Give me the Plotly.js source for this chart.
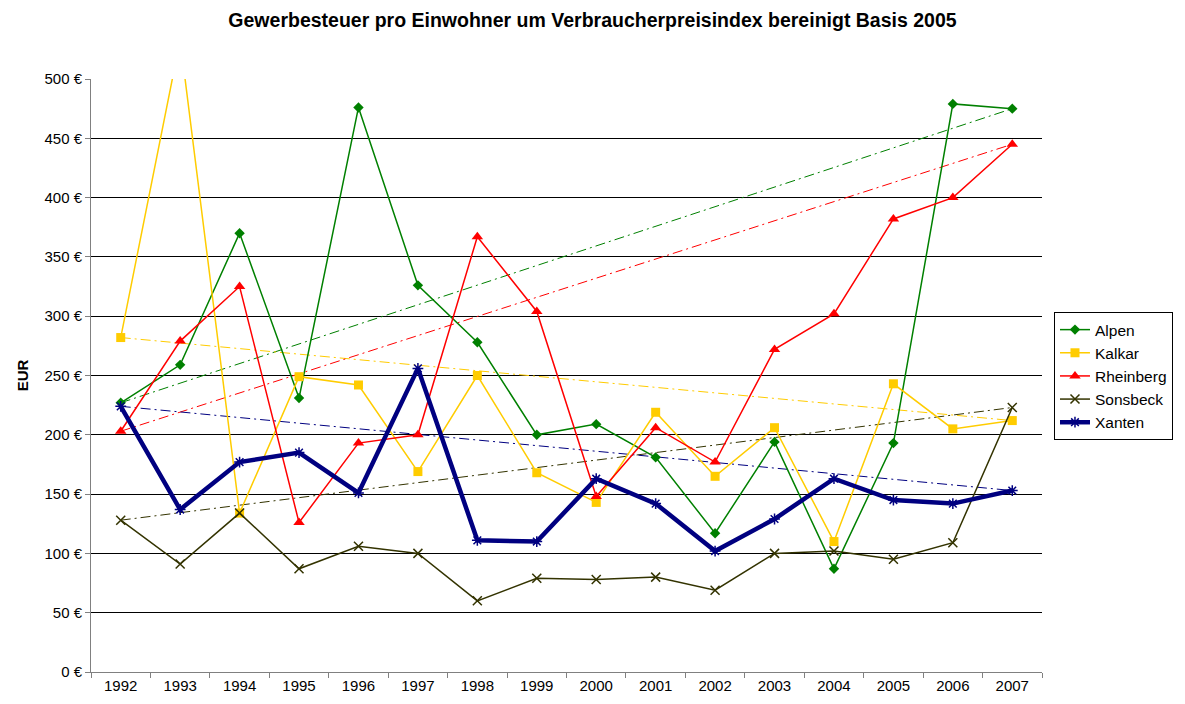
<!DOCTYPE html>
<html>
<head>
<meta charset="utf-8">
<script src="https://cdn.plot.ly/plotly-3.0.1.min.js"></script>
<style>
  html, body { margin: 0; padding: 0; background: #fff; }
  #chart { width: 1185px; height: 704px; }
</style>
</head>
<body>
<div id="chart"></div>
<script>
const jahre = ['1992', '1993', '1994', '1995', '1996', '1997', '1998', '1999',
               '2000', '2001', '2002', '2003', '2004', '2005', '2006', '2007'];

const alpen     = [227, 259, 370, 231, 476, 326, 278, 200, 209, 181, 117, 194, 87, 193, 479, 475];
const kalkar    = [282, 533, 134, 249, 242, 169, 250, 168, 143, 219, 165, 206, 110, 243, 205, 212];
const rheinberg = [203, 279, 325, 126, 193, 200, 367, 304, 148, 206, 177, 272, 302, 382, 400, 445];
const sonsbeck  = [128, 91, 134, 87, 106, 100, 60, 79, 78, 80, 69, 100, 102, 95, 109, 223];
const xanten    = [224, 137, 177, 185, 151, 256, 111, 110, 163, 142, 102, 129, 163, 145, 142, 153];

const yTicks = [0, 50, 100, 150, 200, 250, 300, 350, 400, 450, 500];

// Trendlinie: vom ersten zum letzten Jahr
function trend(werte) {
    return [werte[0], werte[werte.length - 1]];
}

const reihen = [
    { name: 'Alpen',     y: alpen,     color: '#008000', symbol: 'diamond',        size: 8,  width: 1.5 },
    { name: 'Kalkar',    y: kalkar,    color: '#FFCC00', symbol: 'square',         size: 9,  width: 1.5 },
    { name: 'Rheinberg', y: rheinberg, color: '#FF0000', symbol: 'triangle-up',    size: 10, width: 1.5 },
    { name: 'Sonsbeck',  y: sonsbeck,  color: '#333300', symbol: 'x-thin-open',    size: 9,  width: 1.5 },
    { name: 'Xanten',    y: xanten,    color: '#000080', symbol: 'asterisk-open',  size: 9,  width: 4.5 }
];

const data = [];

reihen.forEach(r => {
    data.push({
        x: [jahre[0], jahre[jahre.length - 1]],
        y: trend(r.y),
        type: 'scatter',
        mode: 'lines',
        showlegend: false,
        hoverinfo: 'skip',
        line: { color: r.color, width: 1, dash: '10px,4px,2px,4px' }
    });
});

reihen.forEach(r => {
    data.push({
        x: jahre,
        y: r.y,
        name: r.name,
        type: 'scatter',
        mode: 'lines+markers',
        line: { color: r.color, width: r.width },
        marker: {
            symbol: r.symbol,
            size: r.size,
            color: r.color,
            line: { color: r.color, width: r.symbol.indexOf('open') >= 0 ? 1.5 : 0 }
        }
    });
});

const layout = {
    width: 1185,
    height: 704,
    margin: { l: 91, r: 139, t: 79, b: 32 },
    paper_bgcolor: '#fff',
    plot_bgcolor: '#fff',
    font: { family: 'Liberation Sans, Arial, sans-serif', size: 15, color: '#000' },
    title: {
        text: '<b>Gewerbesteuer pro Einwohner um Verbraucherpreisindex bereinigt Basis 2005</b>',
        font: { size: 19.5, color: '#000' },
        x: 0.5, xanchor: 'center',
        y: 0.971, yanchor: 'middle'
    },
    xaxis: {
        type: 'category',
        categoryorder: 'array',
        categoryarray: jahre,
        range: [-0.5, 15.5],
        tickson: 'boundaries',
        ticks: 'outside',
        ticklen: 5,
        tickcolor: '#808080',
        showline: true,
        linecolor: '#808080',
        linewidth: 1,
        showgrid: false,
        zeroline: false,
        tickfont: { size: 15 }
    },
    yaxis: {
        range: [0, 500],
        tickvals: yTicks,
        ticktext: yTicks.map(v => v + ' €'),
        ticks: 'outside',
        ticklen: 5,
        tickcolor: '#808080',
        showline: true,
        linecolor: '#808080',
        linewidth: 1,
        showgrid: true,
        gridcolor: '#000',
        gridwidth: 1,
        zeroline: false,
        tickfont: { size: 15 },
        title: { text: '<b>EUR</b>', font: { size: 15 }, standoff: 12 }
    },
    legend: {
        x: 1.0126, xanchor: 'left',
        y: 0.607, yanchor: 'top',
        bgcolor: '#fff',
        bordercolor: '#000',
        borderwidth: 1,
        font: { size: 15.5 },
        tracegroupgap: 0,
        itemwidth: 30
    },
    showlegend: true
};

Plotly.newPlot('chart', data, layout, { displayModeBar: false, staticPlot: true });
</script>
</body>
</html>
